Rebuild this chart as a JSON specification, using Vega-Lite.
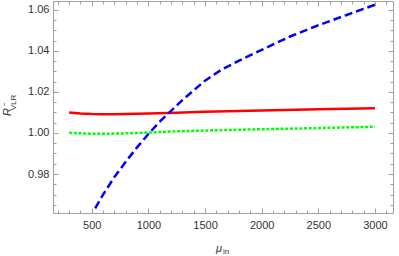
{
  "$schema": "https://vega.github.io/schema/vega-lite/v6.json",
  "width": 340,
  "height": 212,
  "autosize": {"type": "none"},
  "padding": {"left": 53, "top": 1, "right": 6, "bottom": 43},
  "background": "white",
  "config": {
    "view": {"stroke": "#a0a0a0", "strokeWidth": 1},
    "axis": {
      "domain": false,
      "grid": false,
      "labelFont": "Liberation Sans",
      "labelFontSize": 11,
      "labelColor": "#333333",
      "tickColor": "#a0a0a0",
      "tickWidth": 1,
      "labelOverlap": false,
      "labelFlush": false,
      "labelBound": false,
      "titleFont": "Liberation Sans",
      "titleColor": "#333333",
      "titleFontWeight": "normal"
    }
  },
  "data": {
    "values": [
      {"mu": 300, "r": 1.0100, "s": "a"},
      {"mu": 400, "r": 1.0095, "s": "a"},
      {"mu": 500, "r": 1.0092, "s": "a"},
      {"mu": 600, "r": 1.0091, "s": "a"},
      {"mu": 700, "r": 1.0091, "s": "a"},
      {"mu": 800, "r": 1.0092, "s": "a"},
      {"mu": 1000, "r": 1.0095, "s": "a"},
      {"mu": 1250, "r": 1.0099, "s": "a"},
      {"mu": 1500, "r": 1.0103, "s": "a"},
      {"mu": 2000, "r": 1.0109, "s": "a"},
      {"mu": 2500, "r": 1.0115, "s": "a"},
      {"mu": 3000, "r": 1.0121, "s": "a"},
      {"mu": 300, "r": 1.0001, "s": "b"},
      {"mu": 450, "r": 0.9997, "s": "b"},
      {"mu": 600, "r": 0.9996, "s": "b"},
      {"mu": 800, "r": 0.9998, "s": "b"},
      {"mu": 1000, "r": 1.0002, "s": "b"},
      {"mu": 1250, "r": 1.0008, "s": "b"},
      {"mu": 1500, "r": 1.0012, "s": "b"},
      {"mu": 2000, "r": 1.0018, "s": "b"},
      {"mu": 2500, "r": 1.0024, "s": "b"},
      {"mu": 3000, "r": 1.0030, "s": "b"},
      {"mu": 530, "r": 0.9633, "s": "c"},
      {"mu": 600, "r": 0.9700, "s": "c"},
      {"mu": 700, "r": 0.9785, "s": "c"},
      {"mu": 800, "r": 0.9860, "s": "c"},
      {"mu": 900, "r": 0.9930, "s": "c"},
      {"mu": 1000, "r": 0.9995, "s": "c"},
      {"mu": 1100, "r": 1.0055, "s": "c"},
      {"mu": 1200, "r": 1.0108, "s": "c"},
      {"mu": 1300, "r": 1.0160, "s": "c"},
      {"mu": 1400, "r": 1.0208, "s": "c"},
      {"mu": 1500, "r": 1.0255, "s": "c"},
      {"mu": 1650, "r": 1.0310, "s": "c"},
      {"mu": 1800, "r": 1.0352, "s": "c"},
      {"mu": 2000, "r": 1.0405, "s": "c"},
      {"mu": 2250, "r": 1.0470, "s": "c"},
      {"mu": 2500, "r": 1.0525, "s": "c"},
      {"mu": 2750, "r": 1.0575, "s": "c"},
      {"mu": 3000, "r": 1.0625, "s": "c"}
    ]
  },
  "layer": [
    {
      "transform": [{"filter": "datum.s === 'a'"}],
      "mark": {"type": "line", "color": "#ff0000", "strokeWidth": 2.5, "clip": true},
      "encoding": {
        "x": {
          "field": "mu", "type": "quantitative",
          "scale": {"domain": [158, 3159], "nice": false, "zero": false},
          "axis": {
            "orient": "bottom",
            "values": [200,300,400,500,600,700,800,900,1000,1100,1200,1300,1400,1500,1600,1700,1800,1900,2000,2100,2200,2300,2400,2500,2600,2700,2800,2900,3000,3100],
            "labelExpr": "datum.value % 500 === 0 ? format(datum.value, 'd') : ''",
            "tickSize": {"condition": {"test": "datum.value % 500 === 0", "value": -5}, "value": -3},
            "labelPadding": 11,
            "title": "μ",
            "titleFontStyle": "italic",
            "titleFontSize": 11,
            "titleX": 165.5,
            "titleY": 38,
            "titleAlign": "center",
            "titleBaseline": "alphabetic"
          }
        },
        "y": {
          "field": "r", "type": "quantitative",
          "scale": {"domain": [0.961, 1.0643], "nice": false, "zero": false},
          "axis": {
            "orient": "left",
            "values": [0.965,0.97,0.975,0.98,0.985,0.99,0.995,1.0,1.005,1.01,1.015,1.02,1.025,1.03,1.035,1.04,1.045,1.05,1.055,1.06],
            "labelExpr": "abs(datum.value*50 - round(datum.value*50)) < 0.001 ? format(datum.value, '.2f') : ''",
            "tickSize": {"condition": {"test": "abs(datum.value*50 - round(datum.value*50)) < 0.001", "value": -5}, "value": -3},
            "labelPadding": 9,
            "title": "R⁻",
            "titleFontStyle": "italic",
            "titleFontSize": 11,
            "titleAngle": 270,
            "titleX": -43,
            "titleY": 108.5,
            "titleAlign": "center",
            "titleBaseline": "alphabetic"
          }
        }
      }
    },
    {
      "transform": [{"filter": "datum.s === 'b'"}],
      "mark": {"type": "line", "color": "#00ff00", "strokeWidth": 2.5, "strokeDash": [3, 1.7], "clip": true},
      "encoding": {
        "x": {
          "field": "mu", "type": "quantitative",
          "axis": {
            "orient": "top",
            "values": [200,300,400,500,600,700,800,900,1000,1100,1200,1300,1400,1500,1600,1700,1800,1900,2000,2100,2200,2300,2400,2500,2600,2700,2800,2900,3000,3100],
            "labels": false,
            "tickSize": {"condition": {"test": "datum.value % 500 === 0", "value": -5}, "value": -3},
            "title": "in",
            "titleFontSize": 8,
            "titleX": 172.5,
            "titleY": 252,
            "titleAlign": "center",
            "titleBaseline": "alphabetic"
          }
        },
        "y": {
          "field": "r", "type": "quantitative",
          "axis": {
            "orient": "right",
            "values": [0.965,0.97,0.975,0.98,0.985,0.99,0.995,1.0,1.005,1.01,1.015,1.02,1.025,1.03,1.035,1.04,1.045,1.05,1.055,1.06],
            "labels": false,
            "tickSize": {"condition": {"test": "abs(datum.value*50 - round(datum.value*50)) < 0.001", "value": -5}, "value": -3},
            "title": "VLR",
            "titleFontSize": 8,
            "titleAngle": 270,
            "titleX": -378,
            "titleY": 101,
            "titleAlign": "center",
            "titleBaseline": "alphabetic"
          }
        }
      }
    },
    {
      "transform": [{"filter": "datum.s === 'c'"}],
      "mark": {"type": "line", "color": "#0000ff", "strokeWidth": 2.5, "strokeDash": [8, 4], "clip": true},
      "encoding": {
        "x": {"field": "mu", "type": "quantitative", "axis": null},
        "y": {"field": "r", "type": "quantitative", "axis": null}
      }
    }
  ]
}
